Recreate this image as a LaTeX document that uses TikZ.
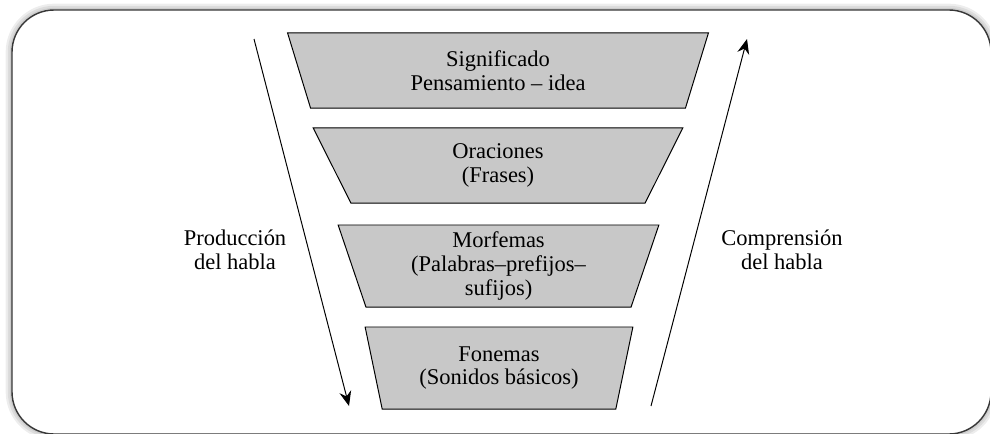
\documentclass[tikz,border=0pt]{standalone}
\usepackage{fontspec}
\setmainfont{Liberation Serif}
\usepackage{tikz}
\usetikzlibrary{arrows.meta, positioning, shapes.geometric}
\definecolor{boxgray}{RGB}{200,200,200}
\definecolor{framegray}{RGB}{55,55,55}

\begin{document}
\begin{tikzpicture}[x=0.025cm, y=-0.025cm,
  every node/.style={font=\fontsize{16}{17}\selectfont, align=center},
  level/.style={trapezium, trapezium stretches=true, trapezium angle=75,
    shape border rotate=180, draw, line width=0.7pt, fill=boxgray, inner sep=0pt},
  >={Stealth[length=10.5pt, width=8.5pt, inset=3.5pt]}]
  \useasboundingbox (0,0) rectangle (990,433);
  % frame with soft shadow
  \foreach \w in {9,6,3}
    \draw[black, opacity=0.07, line width=\w pt, rounded corners=30] (12,10) rectangle (991,434);
  \draw[framegray, line width=1pt, fill=white, rounded corners=30] (12,10) rectangle (991,434);
  % levels
  \node[level, minimum width=10.525cm, minimum height=1.875cm] (sig) at (498,70.5)
    {\fontsize{16}{19}\selectfont Significado\\Pensamiento -- idea};
  \node[level, minimum width=9.3cm, minimum height=1.875cm] (ora) at (498,165.5) {Oraciones\\(Frases)};
  \node[level, minimum width=8.025cm, minimum height=2.05cm] (mor) at (498.5,266) {Morfemas\\(Palabras--prefijos--\\sufijos)};
  \node[level, minimum width=6.7cm, minimum height=2.05cm] (fon) at (499,368) {Fonemas\\(Sonidos básicos)};
  % side labels
  \node (prod) at (235,250) {Producción\\del habla};
  \node (comp) at (782,250) {Comprensión\\del habla};
  \coordinate (prodtop) at (254,39);
  \coordinate (prodbot) at (349,406);
  \coordinate (compbot) at (651,406);
  \coordinate (comptop) at (747,39);
  \draw[->, line width=0.7pt] (prodtop) -- (prodbot);
  \draw[->, line width=0.7pt] (compbot) -- (comptop);
\end{tikzpicture}
\end{document}
